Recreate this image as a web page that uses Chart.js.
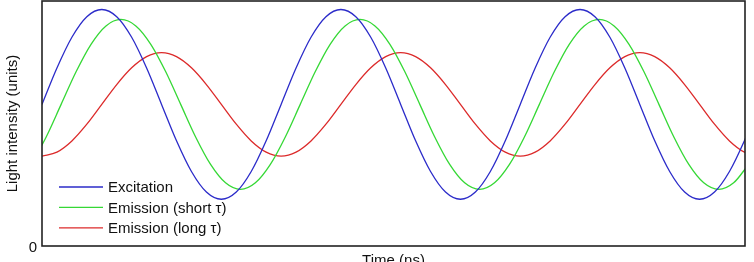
<!DOCTYPE html>
<html>
<head>
<meta charset="utf-8">
<script src="https://cdn.jsdelivr.net/npm/chart.js@4/dist/chart.umd.min.js"></script>
<style>
  html, body { margin: 0; padding: 0; background: #fff; overflow: hidden; }
  #wrap { position: relative; width: 754px; height: 270px; }
</style>
</head>
<body>
<div id="wrap"><canvas id="lightChart"></canvas></div>
<script>
// time samples (ns)
const sampleTime = [0, 0.625, 1.25, 1.875, 2.5, 3.125, 3.75, 4.375, 5, 5.625, 6.25, 6.875, 7.5, 8.125, 8.75, 9.375,
    10, 10.625, 11.25, 11.875, 12.5, 13.125, 13.75, 14.375, 15, 15.625, 16.25, 16.875, 17.5, 18.125, 18.75, 19.375,
    20, 20.625, 21.25, 21.875, 22.5, 23.125, 23.75, 24.375, 25, 25.625, 26.25, 26.875, 27.5, 28.125, 28.75, 29.375, 30];
// short-lifetime emission read at its own (shifted) times
const shortTime = [-0.45, 0.175, 0.8, 1.425, 2.05, 2.675, 3.3, 3.925, 4.55, 5.175, 5.8, 6.425, 7.05, 7.675, 8.3, 8.925,
    9.55, 10.175, 10.8, 11.425, 12.05, 12.675, 13.3, 13.925, 14.55, 15.175, 15.8, 16.425, 17.05, 17.675, 18.3, 18.925,
    19.55, 20.175, 20.8, 21.425, 22.05, 22.675, 23.3, 23.925, 24.55, 25.175, 25.8, 26.425, 27.05, 27.675, 28.3, 28.925, 29.55];

const excitation = [1, 1.257, 1.474, 1.619, 1.67, 1.619, 1.474, 1.257, 1, 0.743, 0.526, 0.381, 0.33, 0.381, 0.526, 0.743,
    1, 1.257, 1.474, 1.619, 1.67, 1.619, 1.474, 1.257, 1, 0.743, 0.526, 0.381, 0.33, 0.381, 0.526, 0.743,
    1, 1.257, 1.474, 1.619, 1.67, 1.619, 1.474, 1.257, 1, 0.743, 0.526, 0.381, 0.33, 0.381, 0.526, 0.743, 1];

const emissionShort = [0.576, 0.77,
    1, 1.23, 1.424, 1.554, 1.6, 1.554, 1.424, 1.23, 1, 0.77, 0.576, 0.446, 0.4, 0.446, 0.576, 0.77,
    1, 1.23, 1.424, 1.554, 1.6, 1.554, 1.424, 1.23, 1, 0.77, 0.576, 0.446, 0.4, 0.446, 0.576, 0.77,
    1, 1.23, 1.424, 1.554, 1.6, 1.554, 1.424, 1.23, 1, 0.77, 0.576, 0.446, 0.4, 0.446, 0.576];

const emissionLong = [0.635, 0.663, 0.742, 0.86, 1, 1.14, 1.258, 1.337, 1.365, 1.337, 1.258, 1.14, 1, 0.86, 0.742, 0.663,
    0.635, 0.663, 0.742, 0.86, 1, 1.14, 1.258, 1.337, 1.365, 1.337, 1.258, 1.14, 1, 0.86, 0.742, 0.663,
    0.635, 0.663, 0.742, 0.86, 1, 1.14, 1.258, 1.337, 1.365, 1.337, 1.258, 1.14, 1, 0.86, 0.742, 0.663, 0.635];

const seriesNames = ['Excitation', 'Emission (short \u03c4)', 'Emission (long \u03c4)'];
const yTicks = [0];

const toPoints = (xs, ys) => xs.map((x, i) => ({ x: x, y: ys[i] }));
const fontFamily = '"Liberation Sans", Arial, sans-serif';

// box round the plot area
const frame = {
    id: 'frame',
    afterDraw(chart) {
        const { ctx, chartArea: a } = chart;
        ctx.save();
        ctx.strokeStyle = '#222';
        ctx.lineWidth = 1.6;
        ctx.strokeRect(a.left, a.top, a.right - a.left, a.bottom - a.top);
        ctx.restore();
    }
};

// legend sits inside the plot, bottom left
const innerLegend = {
    id: 'innerLegend',
    afterDatasetsDraw(chart) {
        const { ctx, chartArea: a } = chart;
        ctx.save();
        ctx.font = '15px ' + fontFamily;
        ctx.textBaseline = 'middle';
        ctx.fillStyle = '#111';
        chart.data.datasets.forEach((ds, i) => {
            const y = a.top + 186 + i * 20.4;
            ctx.strokeStyle = ds.borderColor;
            ctx.lineWidth = 1.3;
            ctx.beginPath();
            ctx.moveTo(a.left + 17, y);
            ctx.lineTo(a.left + 61, y);
            ctx.stroke();
            ctx.fillText(ds.label, a.left + 66, y + 1);
        });
        ctx.restore();
    }
};

const lineStyle = {
    borderWidth: 1.3,
    pointRadius: 0,
    fill: false,
    cubicInterpolationMode: 'monotone'
};

new Chart(document.getElementById('lightChart').getContext('2d'), {
    type: 'line',
    data: {
        datasets: [
            { ...lineStyle, label: seriesNames[0], data: toPoints(sampleTime, excitation), borderColor: '#2b2bc9' },
            { ...lineStyle, label: seriesNames[1], data: toPoints(shortTime, emissionShort), borderColor: '#35d835' },
            { ...lineStyle, label: seriesNames[2], data: toPoints(sampleTime, emissionLong), borderColor: '#dc2a2a' }
        ]
    },
    options: {
        responsive: true,
        maintainAspectRatio: false,
        animation: false,
        layout: { padding: { top: 1, right: 9, bottom: 0, left: 0 } },
        plugins: {
            legend: { display: false },
            tooltip: { enabled: false }
        },
        scales: {
            x: {
                type: 'linear',
                min: 0,
                max: 29.4,
                grid: { display: false, drawTicks: false },
                border: { display: false },
                ticks: { display: false },
                title: {
                    display: true,
                    text: 'Time (ns)',
                    color: '#111',
                    font: { family: fontFamily, size: 15 },
                    padding: { top: 4, bottom: 0 }
                },
                afterFit: s => { s.height = 24; s.paddingLeft = 0; s.paddingRight = 0; }
            },
            y: {
                min: 0,
                max: 1.73,
                grid: { display: false, drawTicks: false },
                border: { display: false },
                afterBuildTicks: s => { s.ticks = yTicks.map(v => ({ value: v })); },
                ticks: {
                    color: '#111',
                    padding: 5,
                    labelOffset: 2,
                    font: { family: fontFamily, size: 15 }
                },
                title: {
                    display: true,
                    text: 'Light intensity (units)',
                    color: '#111',
                    font: { family: fontFamily, size: 15 },
                    padding: { top: 4, bottom: 0 }
                },
                afterFit: s => { s.width = 42; s.paddingTop = 0; s.paddingBottom = 0; }
            }
        }
    },
    plugins: [frame, innerLegend]
});
</script>
</body>
</html>
